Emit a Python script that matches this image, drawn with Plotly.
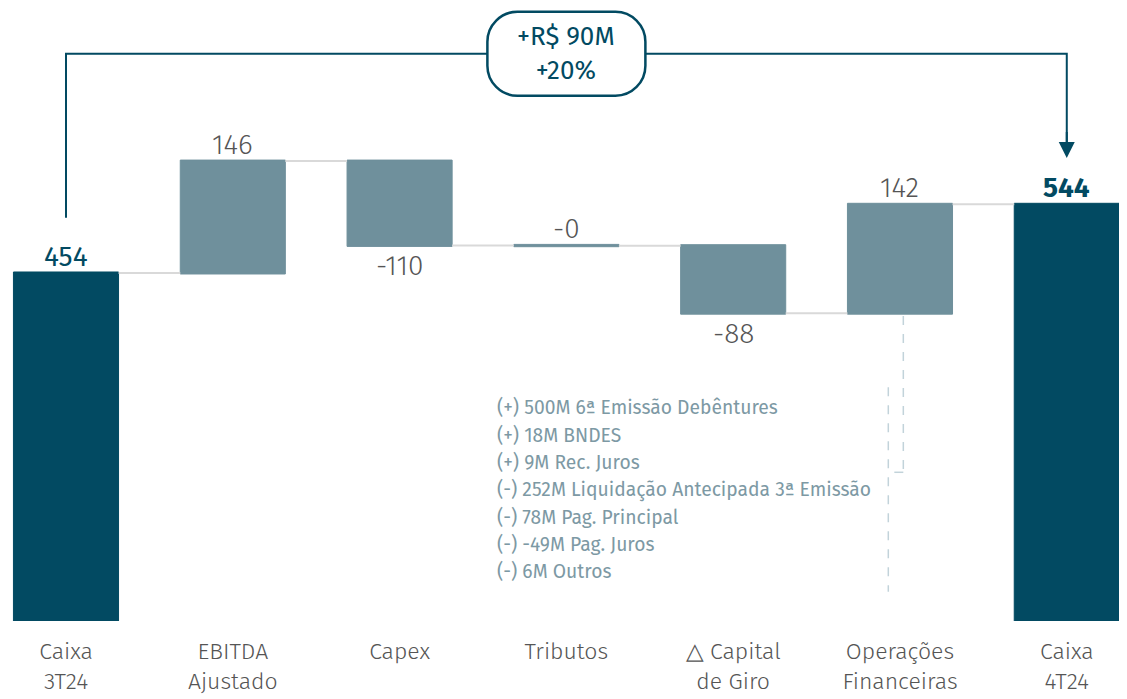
import plotly.graph_objects as go

# dados do fluxo de caixa (R$ milhões)
categories = ["Caixa<br>3T24", "EBITDA<br>Ajustado", "Capex", "Tributos",
              "△ Capital<br>de Giro", "Operações<br>Financeiras", "Caixa<br>4T24"]
values = [454, 146, -110, -0.4, -88, 142, 0]
measures = ["absolute", "relative", "relative", "relative", "relative", "relative", "total"]
value_labels = ["454", "146", "-110", "-0", "-88", "142", "544"]
delta_lines = ["+R$ 90M", "+20%"]
notes = [
    "(+) 500M 6ª Emissão Debêntures",
    "(+) 18M BNDES",
    "(+) 9M Rec. Juros",
    "(-) 252M Liquidação Antecipada 3ª Emissão",
    "(-) 78M Pag. Principal",
    "(-) -49M Pag. Juros",
    "(-) 6M Outros",
]

DARK = "#024A62"
LIGHT = "#6F909C"
FONT = "Fira Sans, Lato, Open Sans, sans-serif"

fig = go.Figure(go.Waterfall(
    x=categories, y=values, measure=measures,
    width=0.63,
    increasing=dict(marker=dict(color=LIGHT, line=dict(color=LIGHT, width=1))),
    decreasing=dict(marker=dict(color=LIGHT, line=dict(color=LIGHT, width=1))),
    totals=dict(marker=dict(color=DARK, line=dict(color=DARK, width=1))),
    connector=dict(mode="between", line=dict(color="#D9D9D9", width=2)),
    showlegend=False, hoverinfo="skip",
))

# rótulos de valor
level = 0
for i, (v, m) in enumerate(zip(values, measures)):
    if m == "absolute":
        start, level = 0, v
    elif m == "total":
        start = 0
    else:
        start, level = level, level + v
    if v < -1:
        y, anchor = level, "top"
    else:
        y, anchor = max(start, level), "bottom"
    if i == len(values) - 1:
        font = dict(size=28, color=DARK, family=FONT, weight=700)
    elif m == "absolute":
        font = dict(size=28, color=DARK, family=FONT, weight=400)
    else:
        font = dict(size=28, color="#555555", family=FONT, weight=350)
    fig.add_annotation(x=categories[i], y=y, text=value_labels[i], showarrow=False,
                       yanchor=anchor, yshift=-2, font=font)

# colchete superior com seta
fig.add_shape(type="path", path="M 0,526 L 0,740 L 6,740 L 6,620",
              line=dict(color=DARK, width=2), xref="x", yref="y")
fig.add_annotation(x=6, y=604, ax=6, ay=640, axref="x", ayref="y", xref="x", yref="y",
                   text="", showarrow=True, arrowhead=2, arrowsize=1.6, arrowwidth=2,
                   arrowcolor=DARK)

# caixa arredondada
hw, hh, r = 79, 42, 30
k = 0.55 * r
pill = (f"M {-hw + r},{hh} L {hw - r},{hh} "
        f"C {hw - r + k},{hh} {hw},{hh - r + k} {hw},{hh - r} "
        f"L {hw},{-hh + r} "
        f"C {hw},{-hh + r - k} {hw - r + k},{-hh} {hw - r},{-hh} "
        f"L {-hw + r},{-hh} "
        f"C {-hw + r - k},{-hh} {-hw},{-hh + r - k} {-hw},{-hh + r} "
        f"L {-hw},{hh - r} "
        f"C {-hw},{hh - r + k} {-hw + r - k},{hh} {-hw + r},{hh} Z")
fig.add_shape(type="path", path=pill, xsizemode="pixel", ysizemode="pixel",
              xanchor=3, yanchor=740, xref="x", yref="y",
              fillcolor="white", line=dict(color=DARK, width=2.5))
fig.add_annotation(x=3, y=740, text="<br>".join(delta_lines), showarrow=False,
                   font=dict(size=26, color=DARK, family=FONT, weight=400))

# linhas tracejadas da nota
dash = dict(color="#C2D3DA", width=1.5, dash="dash")
fig.add_shape(type="line", x0=5.02, x1=5.02, y0=398, y1=194, line=dash)
fig.add_shape(type="line", x0=5.02, x1=4.93, y0=194, y1=194, line=dash)
fig.add_shape(type="line", x0=4.93, x1=4.93, y0=305, y1=38, line=dash)

# nota
for j, line in enumerate(notes):
    fig.add_annotation(x=2.572, xref="x", xanchor="left", y=278 - j * 35.6, yref="y",
                       text=line, showarrow=False, align="left",
                       font=dict(size=19.3, color="#7D99A4", family=FONT))

fig.update_layout(
    width=1127, height=699,
    margin=dict(l=0, r=0, t=0, b=86),
    paper_bgcolor="white", plot_bgcolor="white",
    xaxis=dict(range=[-0.3477, 6.409], showgrid=False, zeroline=False, showline=False,
               ticks="", ticklabelstandoff=14,
               tickfont=dict(size=23, color="#555555", family=FONT, weight=300)),
    yaxis=dict(range=[0, 799.7], visible=False),
)

fig.write_html("out.html")
